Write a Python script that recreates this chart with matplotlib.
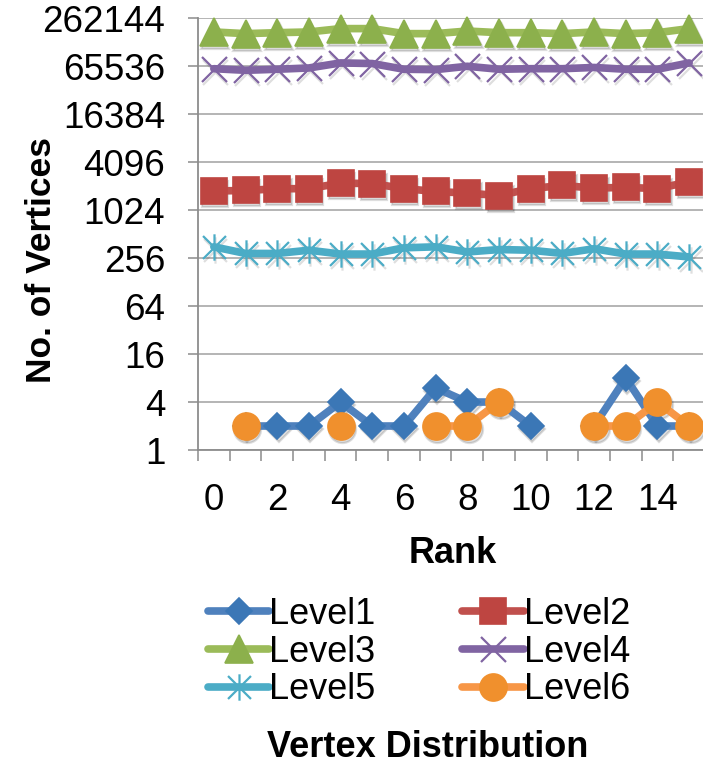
#!/usr/bin/env python3
import numpy as np
import matplotlib

matplotlib.use("Agg")
import matplotlib.pyplot as plt
from matplotlib.path import Path
from matplotlib.transforms import offset_copy

plt.rcParams["font.family"] = ["Liberation Sans", "DejaVu Sans"]

nan = np.nan
ranks = np.arange(16)
x_tick_labels = [0, 2, 4, 6, 8, 10, 12, 14]
y_ticks = [1, 4, 16, 64, 256, 1024, 4096, 16384, 65536, 262144]

level1 = [nan, 2, 2, 2, 4, 2, 2, 6, 4, 4, 2, nan, 2, 8, 2, 2]
level2 = [1783, 1808, 1898, 1911, 2233, 2210, 1911, 1758, 1675, 1563, 1911, 2091, 1938, 1978, 1911, 2320]
level3 = [176600, 168300, 173000, 176600, 194600, 194600, 168300, 168300, 181500, 173000, 173000, 168300,
          176600, 168300, 173000, 194600]
level4 = [61100, 58300, 60100, 62400, 72200, 70900, 60100, 59500, 65500, 60100, 61100, 61100, 63300, 60100,
          60100, 72200]
level5 = [355, 293, 293, 322, 288, 288, 345, 355, 306, 328, 322, 293, 336, 288, 288, 265]
level6 = [nan, 2, nan, nan, 2, nan, nan, 2, 2, 4, nan, nan, 2, 2, 4, 2]

# asterisk marker: an x with a vertical stroke through it
STAR = Path(
    [(-1, -1), (1, 1), (-1, 1), (1, -1), (0, -1.15), (0, 1.15)],
    [Path.MOVETO, Path.LINETO, Path.MOVETO, Path.LINETO, Path.MOVETO, Path.LINETO],
)

# label, values, line colour, marker colour, marker, marker size, filled
series = [
    ("Level1", level1, "#4F81BD", "#3B77B6", "D", 13.5, True),
    ("Level2", level2, "#C0504D", "#BE4541", "s", 18.5, True),
    ("Level3", level3, "#9BBB59", "#8CB04C", "^", 19.5, True),
    ("Level4", level4, "#8064A2", "#8064A2", "x", 18, False),
    ("Level5", level5, "#4BACC6", "#4BACC6", STAR, 19, False),
    ("Level6", level6, "#F79646", "#F0902D", "o", 19.5, True),
]

GRAY = "#8C8C8C"

fig = plt.figure(figsize=(7.03, 7.68), dpi=100)
ax = fig.add_axes([198 / 703, 1 - 450 / 768, (705 - 198) / 703, (450 - 18.3) / 768])

handles = {}
for label, vals, line_col, mk_col, marker, ms, filled in series:
    shadow = offset_copy(ax.transData, fig=fig, x=1.5, y=-3, units="dots")
    ax.plot(ranks, vals, ls="none", marker=marker, ms=ms,
            mfc="black" if filled else "none", mec="black", mew=1.6,
            alpha=0.13, transform=shadow, clip_on=False, zorder=2)
    (h,) = ax.plot(
        ranks, vals, color=line_col, lw=5.5, solid_capstyle="round",
        marker=marker, ms=ms,
        mfc=mk_col if filled else "none", mec=mk_col, mew=1.2 if filled else 1.6,
        label=label, clip_on=False, zorder=3,
    )
    handles[label] = h

ax.set_yscale("log", base=2)
ax.set_ylim(1, 262144)
ax.set_yticks(y_ticks)
ax.set_yticklabels([str(v) for v in y_ticks])
ax.yaxis.set_minor_locator(matplotlib.ticker.NullLocator())

ax.set_xlim(-0.5, 15.5)
ax.set_xticks(x_tick_labels)
ax.set_xticklabels([str(v) for v in x_tick_labels])
ax.set_xticks(np.arange(-0.5, 16, 1), minor=True)

ax.grid(axis="y", color="#A0A0A0", lw=1.1, zorder=0)
ax.set_axisbelow(True)
for side in ("top", "right"):
    ax.spines[side].set_visible(False)
for side in ("left", "bottom"):
    ax.spines[side].set_color(GRAY)
    ax.spines[side].set_linewidth(1.3)

ax.tick_params(axis="y", which="major", length=7.5, width=1.1, color=GRAY, pad=16, labelsize=26.5)
ax.tick_params(axis="x", which="major", length=0, pad=24, labelsize=26.5)
ax.tick_params(axis="x", which="minor", length=8, width=1.1, color=GRAY)

fig.text(42 / 703, 1 - 260 / 768, "No. of Vertices", rotation=90, ha="center", va="center",
         fontsize=25.5, fontweight="bold")
fig.text(453 / 703, 1 - 563 / 768, "Rank", ha="center", va="baseline",
         fontsize=26, fontweight="bold")
fig.text(428 / 703, 1 - 757 / 768, "Vertex Distribution", ha="center", va="baseline",
         fontsize=26, fontweight="bold")

order = ["Level1", "Level3", "Level5", "Level2", "Level4", "Level6"]
fig.legend([handles[k] for k in order], order, ncol=2, loc="center",
           bbox_to_anchor=(0.596, 0.151), frameon=False, fontsize=26,
           handlelength=1.7, handletextpad=0.0, columnspacing=2.4,
           labelspacing=0.08, borderaxespad=0)

fig.savefig("out.png", dpi=100, facecolor="white")
